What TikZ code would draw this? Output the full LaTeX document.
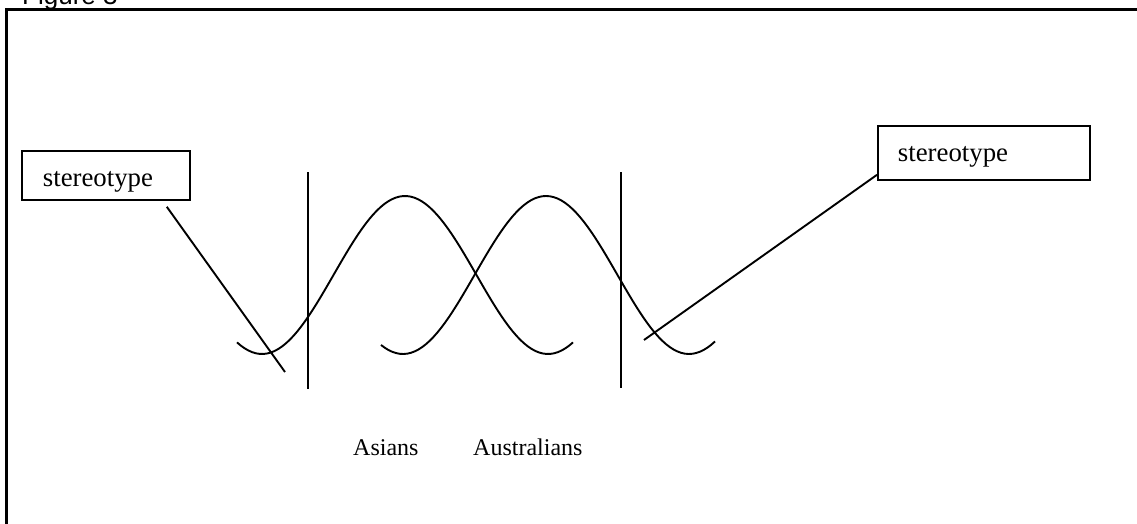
\documentclass[tikz,border=0pt]{standalone}
\usepackage{fontspec}
\usepackage{xcolor}
\usepackage{tikz}
\usetikzlibrary{positioning,calc}
\setmainfont{Liberation Serif}
\newfontfamily\capfont{Liberation Sans}
\definecolor{Ink}{HTML}{000000}
\begin{document}
\begin{tikzpicture}[x=1pt,y=-1pt,
    frame/.style={draw=Ink,line width=3pt},
    tag/.style={draw=Ink,line width=1.8pt,anchor=north west,align=left,inner ysep=0pt,font=\fontsize{26.8}{30}\selectfont},
    lbl/.style={anchor=base west,inner sep=0pt,font=\fontsize{24}{28}\selectfont},
    wave/.style={draw=Ink,line width=1.9pt},
    a/.style={draw=Ink,line width=1.9pt}]
    \useasboundingbox (0,0) rectangle (1137,524);
    \node[anchor=base west,inner sep=0pt,font=\capfont\fontsize{26}{30}\selectfont] (fig) at (22,4.5) {Figure 3};
    \draw[frame] (6.5,524) -- (6.5,9.5) -- (1137,9.5);
    \node[tag,text width=126pt,inner xsep=21pt,text height=36pt,text depth=13pt] (lbox) at (21,150) {stereotype};
    \node[tag,text width=172pt,inner xsep=20pt,text height=36pt,text depth=18pt] (rbox) at (877,125) {stereotype};
    \coordinate (lstart) at ([shift={(-24,6)}]lbox.south east);
    \coordinate (lend) at (285,372);
    \coordinate (rstart) at ([shift={(0,-6)}]rbox.south west);
    \coordinate (rend) at (644,340);
    \coordinate (va) at (308,172); \coordinate (vab) at (308,389);
    \coordinate (vb) at (621,172); \coordinate (vbb) at (621,388);
    \draw[wave] plot[domain=237:573,samples=90] (\x,{275+79*cos(1.258741*(\x-262))});
    \draw[wave] plot[domain=381:715,samples=90] (\x,{275+79*cos(1.258741*(\x-403))});
    \draw[a] (va)--(vab); \draw[a] (vb)--(vbb);
    \draw[a] (lstart)--(lend); \draw[a] (rstart)--(rend);
    \node[lbl] (asians) at (353,455) {Asians};
    \node[lbl] (aussies) at (473,455) {Australians};
  \end{tikzpicture}
\end{document}
